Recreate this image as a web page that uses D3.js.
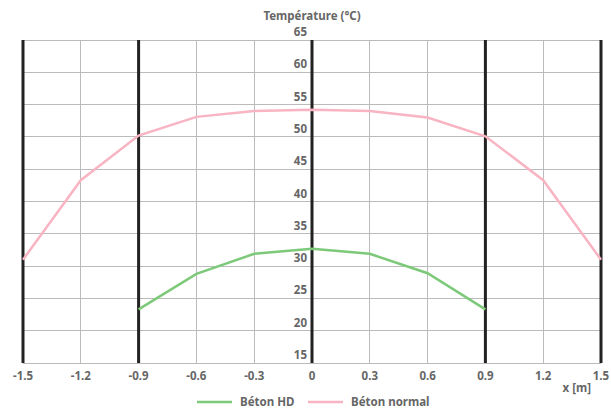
<!DOCTYPE html>
<meta charset='utf-8'>
<style>
body { margin: 0; background: #fff; }
text {
    font-family: 'Noto Sans', 'Open Sans', sans-serif;
    font-weight: bold;
    font-size: 11.5px;
    fill: #666;
}
.grid line { stroke: #bbb; stroke-width: 1; shape-rendering: crispEdges; }
.thick line { stroke: #222; stroke-width: 3; }
</style>
<svg width='611' height='409'></svg>
<script src='https://cdnjs.cloudflare.com/ajax/libs/d3/7.8.5/d3.min.js'></script>
<script>

// positions along x [m]
var xValues = [-1.5, -1.2, -0.9, -0.6, -0.3, 0, 0.3, 0.6, 0.9, 1.2, 1.5];
var xTickLabels = ['-1.5', '-1.2', '-0.9', '-0.6', '-0.3', '0', '0.3', '0.6', '0.9', '1.2', '1.5'];
var yTicks = [15, 20, 25, 30, 35, 40, 45, 50, 55, 60, 65];
// thick black verticals
var thickX = [-1.5, -0.9, 0, 0.9, 1.5];

var betonNormal = [31, 43.3, 50.2, 53.1, 54.0, 54.2, 54.0, 53.0, 50.1, 43.3, 31];
var betonHDx = [-0.9, -0.6, -0.3, 0, 0.3, 0.6, 0.9];
var betonHD = [23.3, 28.8, 31.9, 32.7, 31.9, 28.9, 23.3];

var svg = d3.select('svg');

var x = d3.scaleLinear().domain([-1.5, 1.5]).range([23, 601]);
var y = d3.scaleLinear().domain([15, 65]).range([363, 40]);

// horizontal grid
svg.append('g').attr('class', 'grid')
    .selectAll('line').data(yTicks).join('line')
    .attr('x1', x(-1.5)).attr('x2', x(1.5))
    .attr('y1', d => y(d)).attr('y2', d => y(d));

// vertical grid
svg.append('g').attr('class', 'grid')
    .selectAll('line').data(xValues).join('line')
    .attr('x1', d => x(d)).attr('x2', d => x(d))
    .attr('y1', y(65)).attr('y2', y(15));

svg.append('g').attr('class', 'thick')
    .selectAll('line').data(thickX).join('line')
    .attr('x1', d => x(d)).attr('x2', d => x(d))
    .attr('y1', y(65)).attr('y2', y(15));

// y labels sit left of the zero line, just above each gridline
svg.append('g').selectAll('text').data(yTicks).join('text')
    .attr('x', x(0) - 5)
    .attr('y', d => y(d) - 4)
    .attr('text-anchor', 'end')
    .text(d => d);

// x labels
svg.append('g').selectAll('text').data(xValues).join('text')
    .attr('x', d => x(d))
    .attr('y', 380)
    .attr('text-anchor', 'middle')
    .text((d, i) => xTickLabels[i]);

svg.append('text').attr('x', x(0)).attr('y', 20)
    .attr('text-anchor', 'middle').text('Température (°C)');
svg.append('text').attr('x', 591).attr('y', 392)
    .attr('text-anchor', 'end').text('x [m]');

var line = d3.line().x(d => x(d[0])).y(d => y(d[1]));

svg.append('path')
    .datum(xValues.map((v, i) => [v, betonNormal[i]]))
    .attr('d', line)
    .attr('fill', 'none').attr('stroke', '#f8b4c2').attr('stroke-width', 2.5);

svg.append('path')
    .datum(betonHDx.map((v, i) => [v, betonHD[i]]))
    .attr('d', line)
    .attr('fill', 'none').attr('stroke', '#7dc97a').attr('stroke-width', 2.5);

// legend
var legend = [
    { name: 'Béton HD', color: '#7dc97a', x: 197 },
    { name: 'Béton normal', color: '#f8b4c2', x: 308 }
];
var lg = svg.append('g').selectAll('g').data(legend).join('g')
    .attr('transform', d => `translate(${d.x},402)`);
lg.append('line').attr('x1', 0).attr('x2', 35)
    .attr('stroke', d => d.color).attr('stroke-width', 2.5);
lg.append('text').attr('x', 43).attr('y', 4).text(d => d.name);
</script>
